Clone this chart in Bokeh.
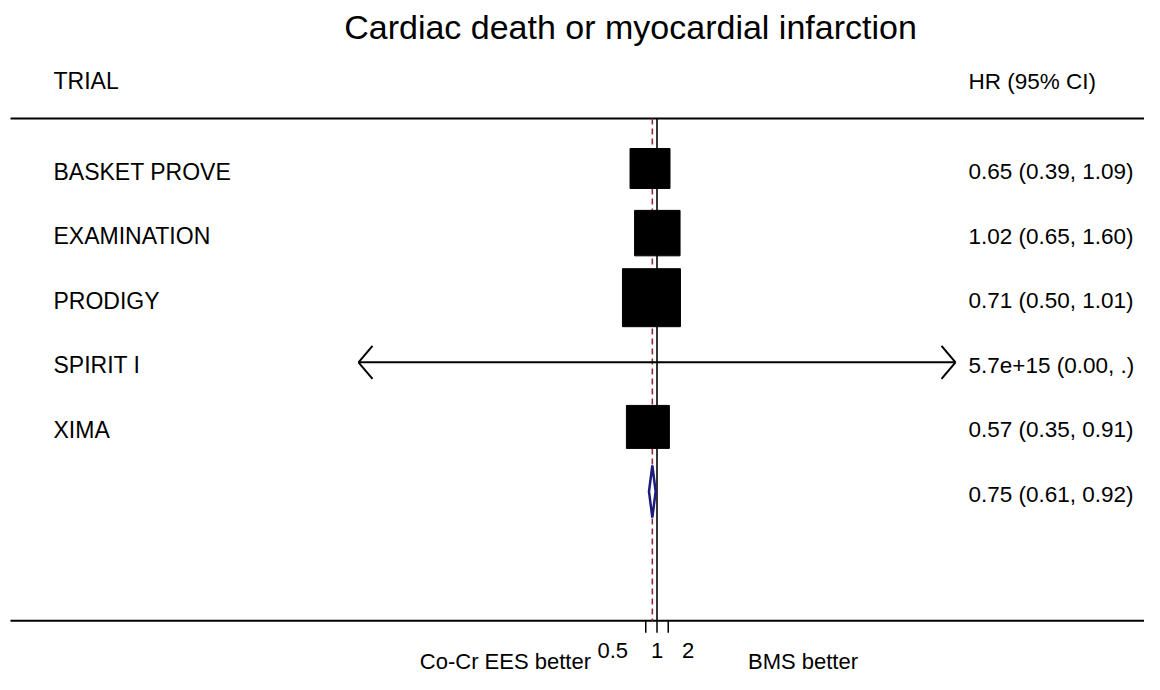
import math
from bokeh.plotting import figure
from bokeh.models import Range1d, LogScale
from bokeh.embed import file_html
from bokeh.resources import INLINE
from bokeh.core.properties import value

# ---------------- data ----------------
title_text = "Cardiac death or myocardial infarction"
col_left = "TRIAL"
col_right = "HR (95% CI)"
trials = ["BASKET PROVE", "EXAMINATION", "PRODIGY", "SPIRIT I", "XIMA"]
hr = [0.65, 1.02, 0.71, 5.7e15, 0.57]
ci_lo = [0.39, 0.65, 0.50, 0.0, 0.35]
ci_hi = [1.09, 1.60, 1.01, float("inf"), 0.91]
weights = [18.0, 23.3, 37.9, 0.0, 20.8]
hr_text = ["0.65 (0.39, 1.09)", "1.02 (0.65, 1.60)", "0.71 (0.50, 1.01)",
           "5.7e+15 (0.00, .)", "0.57 (0.35, 0.91)"]
overall_hr = 0.75
overall_lo = 0.61
overall_hi = 0.92
overall_text = "0.75 (0.61, 0.92)"
tick_values = [0.5, 1.0, 2.0]
tick_labels = ["0.5", "1", "2"]
favours_left = "Co-Cr EES better"
favours_right = "BMS better"
axis_min = 1e-8
axis_max = 1e8

# ---------------- layout / style ----------------
W, H = 1144, 674
FONT = "Liberation Sans"
AX_LO_PX, AX_HI_PX = 358.0, 955.0      # pixel positions of axis_min / axis_max
ROW1_PX = 168.0                        # pixel of first row centre
ROW_PX = 64.6                          # pixels per row
RULE_X0 = 10                           # left start of the horizontal rules
TOP_LINE_ROW = 0.226
AXIS_ROW = 8.0
HEADER_ROW = -0.354
TITLE_ROW = -1.183
BOX_SCALE = 9.42                       # px per sqrt(weight)
tick_label_dx = [-33, 0, 20]

dec_px = (AX_HI_PX - AX_LO_PX) / (math.log10(axis_max) - math.log10(axis_min))
x_lo = 10 ** (math.log10(axis_min) - AX_LO_PX / dec_px)
x_hi = 10 ** (math.log10(axis_max) + (W - AX_HI_PX) / dec_px)
y_bottom = 1 + (H - ROW1_PX) / ROW_PX
y_top = 1 - ROW1_PX / ROW_PX

p = figure(width=W, height=H, output_backend="svg", toolbar_location=None,
           x_axis_type=None, y_axis_type=None,
           x_range=Range1d(0, W), y_range=Range1d(y_bottom, y_top),
           min_border=0, outline_line_color=None,
           background_fill_color="white", border_fill_color="white")
p.extra_x_ranges = {"hr": Range1d(x_lo, x_hi)}
p.extra_x_scales = {"hr": LogScale()}
p.grid.visible = False

rows = list(range(1, len(trials) + 1))
overall_row = len(trials) + 1

# horizontal rules
p.segment(x0=[RULE_X0, RULE_X0], y0=[TOP_LINE_ROW, AXIS_ROW], x1=[W, W], y1=[TOP_LINE_ROW, AXIS_ROW],
          line_color="black", line_width=2)

# null line and overall line
p.segment(x0=[1.0], y0=[TOP_LINE_ROW], x1=[1.0], y1=[AXIS_ROW], x_range_name="hr",
          line_color="black", line_width=1.6)
p.segment(x0=[overall_hr], y0=[TOP_LINE_ROW], x1=[overall_hr], y1=[AXIS_ROW], x_range_name="hr",
          line_color="#8b2e3a", line_width=1.6, line_dash="6 4")

# confidence intervals (clipped to axis)
clo = [max(v, axis_min) for v in ci_lo]
chi = [min(v, axis_max) for v in ci_hi]
p.segment(x0=clo, y0=rows, x1=chi, y1=rows, x_range_name="hr",
          line_color="black", line_width=2)

# arrow heads for clipped intervals
head_len = 10 ** (14.0 / dec_px)
head_half = 16.5 / ROW_PX
ax0, ay0, ax1, ay1 = [], [], [], []
for r, lo, hi in zip(rows, ci_lo, ci_hi):
    if lo < axis_min:
        for s in (-1, 1):
            ax0.append(axis_min); ay0.append(r)
            ax1.append(axis_min * head_len); ay1.append(r + s * head_half)
    if hi > axis_max:
        for s in (-1, 1):
            ax0.append(axis_max); ay0.append(r)
            ax1.append(axis_max / head_len); ay1.append(r + s * head_half)
p.segment(x0=ax0, y0=ay0, x1=ax1, y1=ay1, x_range_name="hr",
          line_color="black", line_width=2)

# weighted boxes
bx = [h for h, w in zip(hr, weights) if w > 0]
by = [r for r, w in zip(rows, weights) if w > 0]
bs = [BOX_SCALE * math.sqrt(w) for w in weights if w > 0]
p.rect(x=bx, y=by, width=bs, height=bs, width_units="screen", height_units="screen",
       x_range_name="hr", fill_color="black", line_color="black")

# overall diamond
dh = 26.0 / ROW_PX
p.patch(x=[overall_lo, overall_hr, overall_hi, overall_hr],
        y=[overall_row, overall_row - dh, overall_row, overall_row + dh],
        x_range_name="hr", fill_color="white", line_color="#1c1c7c", line_width=2.5)

# ticks
tick_len = 12.0 / ROW_PX
p.segment(x0=tick_values, y0=[AXIS_ROW] * 3, x1=tick_values, y1=[AXIS_ROW + tick_len] * 3,
          x_range_name="hr", line_color="black", line_width=1.5)
p.text(x=tick_values, y=[AXIS_ROW] * 3, text=tick_labels, x_offset=tick_label_dx, y_offset=30,
       x_range_name="hr", text_font=value(FONT), text_font_size="22px",
       text_align="center", text_baseline="middle", text_color="black")

# favours labels
p.text(x=[1.0], y=[AXIS_ROW], text=[favours_left], x_offset=-66, y_offset=41, x_range_name="hr",
       text_font=value(FONT), text_font_size="22px", text_align="right",
       text_baseline="middle", text_color="black")
p.text(x=[1.0], y=[AXIS_ROW], text=[favours_right], x_offset=91, y_offset=41, x_range_name="hr",
       text_font=value(FONT), text_font_size="22px", text_align="left",
       text_baseline="middle", text_color="black")

# title and headers
p.text(x=[630], y=[TITLE_ROW], text=[title_text], text_font=value(FONT), text_font_size="34px",
       text_align="center", text_baseline="middle", text_color="black")
p.text(x=[53], y=[HEADER_ROW], text=[col_left], text_font=value(FONT), text_font_size="23px",
       text_align="left", text_baseline="middle", text_color="black")
p.text(x=[968], y=[HEADER_ROW], text=[col_right], text_font=value(FONT), text_font_size="22.5px",
       text_align="left", text_baseline="middle", text_color="black")

# row labels
p.text(x=[53] * len(trials), y=rows, text=trials, y_offset=3,
       text_font=value(FONT), text_font_size="23px", text_align="left",
       text_baseline="middle", text_color="black")
p.text(x=[968] * (len(trials) + 1), y=rows + [overall_row], text=hr_text + [overall_text],
       y_offset=3, text_font=value(FONT), text_font_size="22.5px", text_align="left",
       text_baseline="middle", text_color="black")

open("out.html", "w").write(file_html(p, INLINE))
